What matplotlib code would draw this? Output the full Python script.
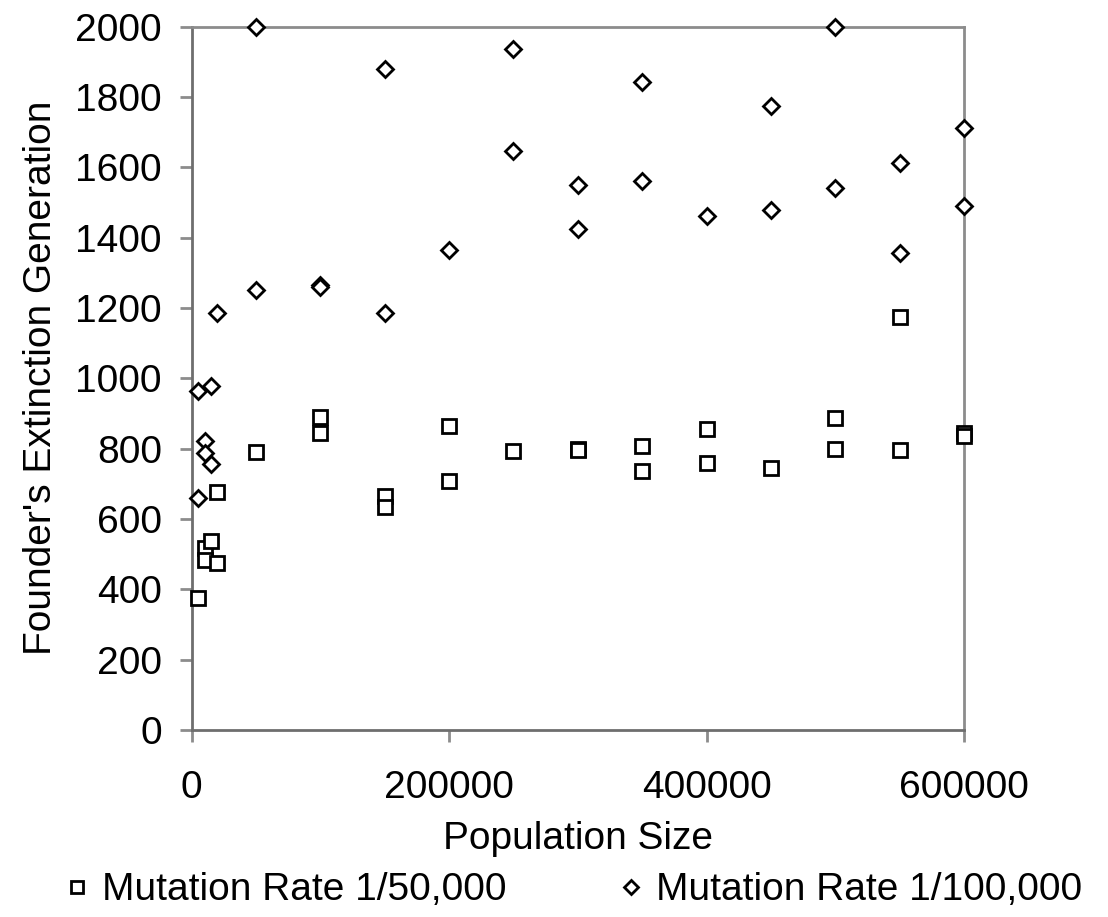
import numpy as np
import matplotlib.pyplot as plt

plt.rcParams['font.family'] = ['Liberation Sans', 'DejaVu Sans']

# Mutation rate 1/50,000 (squares)
pop_50k = [5000, 10000, 10000, 15000, 20000, 20000, 50000, 100000, 100000,
           150000, 150000, 200000, 200000, 250000, 300000, 300000,
           350000, 350000, 400000, 400000, 450000, 500000, 500000,
           550000, 550000, 600000, 600000]
gen_50k = [375, 518, 484, 538, 678, 474, 790, 891, 844,
           664, 635, 865, 708, 792, 800, 796,
           806, 735, 855, 760, 745, 887, 799,
           1173, 797, 843, 836]

# Mutation rate 1/100,000 (diamonds)
pop_100k = [5000, 5000, 10000, 10000, 15000, 15000, 20000, 50000, 50000,
            100000, 100000, 150000, 150000, 200000, 250000, 250000,
            300000, 300000, 350000, 350000, 400000, 450000, 450000,
            500000, 500000, 550000, 550000, 600000, 600000]
gen_100k = [965, 660, 823, 788, 979, 757, 1185, 2000, 1252,
            1266, 1259, 1878, 1185, 1366, 1937, 1645,
            1549, 1425, 1842, 1562, 1462, 1775, 1479,
            2000, 1541, 1612, 1356, 1712, 1489]

FS = 28

fig = plt.figure(figsize=(11.08, 9.17), dpi=100)
ax = fig.add_axes([0.173, 0.204, 0.697, 0.767])

ax.plot(pop_50k, gen_50k, 's', ms=10.5, mfc='white', mec='black', mew=2.0,
        clip_on=False, zorder=3, label='Mutation Rate 1/50,000')
ax.plot(pop_100k, gen_100k, 'D', ms=8.5, mfc='white', mec='black', mew=2.0,
        clip_on=False, zorder=3, label='Mutation Rate 1/100,000')

ax.set_xlim(0, 600000)
ax.set_ylim(0, 2000)
ax.set_xticks([0, 200000, 400000, 600000])
ax.set_yticks(np.arange(0, 2001, 200))
ax.set_xticklabels(['0', '200000', '400000', '600000'])

for s in ['top', 'right']:
    ax.spines[s].set_color('#8c8c8c')
    ax.spines[s].set_linewidth(2)
for s in ['left', 'bottom']:
    ax.spines[s].set_color('#6e6e6e')
    ax.spines[s].set_linewidth(2)

ax.tick_params(axis='both', labelsize=FS, colors='#8c8c8c', labelcolor='black',
               width=2, length=8.5)
ax.tick_params(axis='y', pad=13)
ax.tick_params(axis='x', pad=20)

ax.set_xlabel('Population Size', fontsize=FS, labelpad=11)
ax.set_ylabel("Founder's Extinction Generation", fontsize=FS, labelpad=12)

fig.legend(loc='center', bbox_to_anchor=(0.518, 0.029), ncol=2, frameon=False,
           fontsize=FS, markerscale=0.8, handlelength=0.6, handletextpad=0.35,
           columnspacing=2.9, borderaxespad=0)

fig.savefig('out.png', dpi=100)
